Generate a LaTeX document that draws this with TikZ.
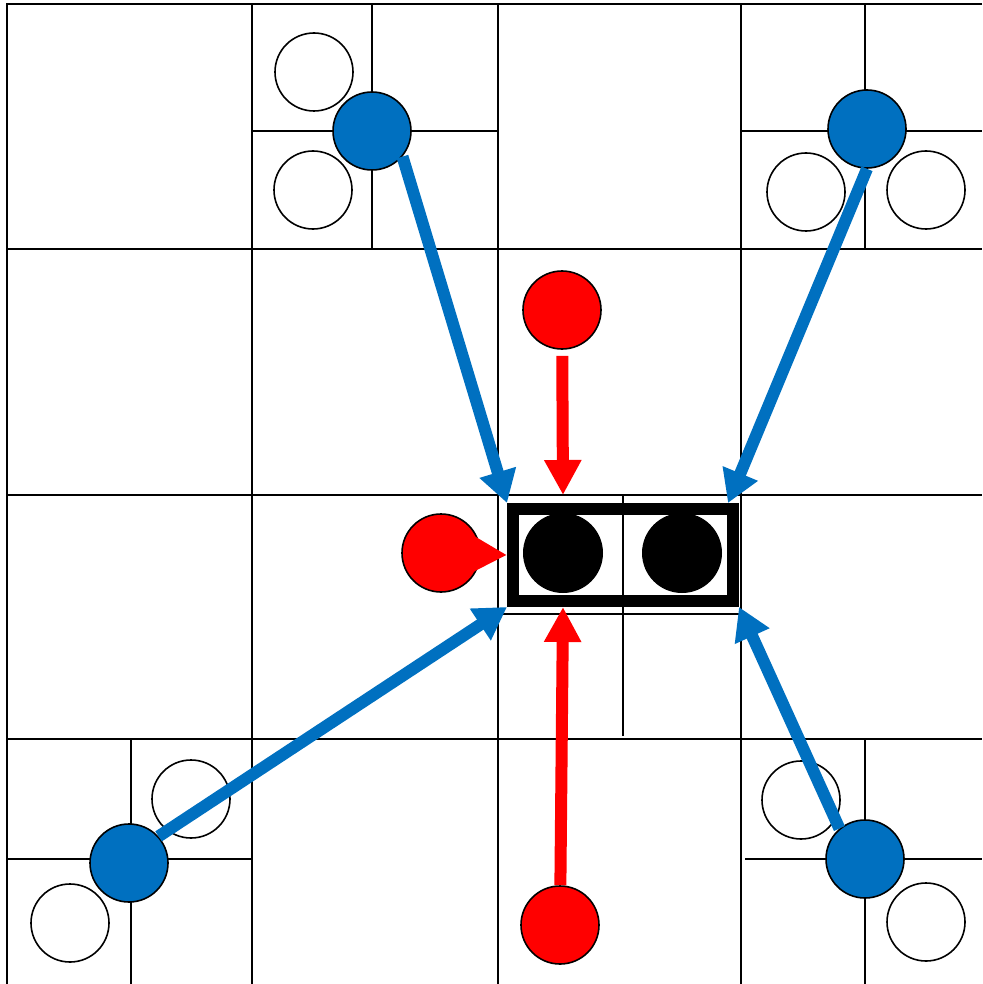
\documentclass[tikz,border=0pt]{standalone}
\usepackage{tikz}
\usetikzlibrary{arrows.meta}
\definecolor{cellblue}{HTML}{0070C0}
\tikzstyle{grid} = [line width=1.3pt, draw=black]
\tikzstyle{frame} = [line width=2.2pt, draw=black]
\tikzstyle{empty} = [circle, minimum size=78pt, inner sep=0pt, draw=black, line width=1.6pt, fill=white]
\tikzstyle{source} = [empty, fill=cellblue]
\tikzstyle{target} = [empty, fill=red]
\tikzstyle{particle} = [circle, minimum size=80pt, inner sep=0pt, fill=black]
\tikzstyle{pair} = [rectangle, minimum width=220pt, minimum height=92pt, inner sep=0pt, draw=black, line width=12pt]
\tikzstyle{bluearrow} = [line width=12pt, draw=cellblue, -{Triangle[length=32pt,width=36pt]}]
\tikzstyle{redarrow} = [line width=12pt, draw=red, -{Triangle[length=35pt,width=35pt]}]
\begin{document}
\begin{tikzpicture}[x=1pt, y=-1pt]
\useasboundingbox (0,0) rectangle (982,984);

% grid
\draw [grid] (252,4) -- (252,984);
\draw [grid] (498,4) -- (498,984);
\draw [grid] (741,4) -- (741,984);
\draw [grid] (7,249) -- (982,249);
\draw [grid] (7,495) -- (982,495);
\draw [grid] (7,739) -- (982,739);
\draw [grid] (372,4) -- (372,249);
\draw [grid] (252,131) -- (498,131);
\draw [grid] (865,4) -- (865,249);
\draw [grid] (741,131) -- (982,131);
\draw [grid] (623,495) -- (623,736);
\draw [grid] (498,614) -- (741,614);
\draw [grid] (131,739) -- (131,984);
\draw [grid] (7,859) -- (252,859);
\draw [grid] (865,739) -- (865,984);
\draw [grid] (745,859) -- (982,859);
\draw [frame] (982,4) -- (7,4) -- (7,984);

% empty neighbours
\node (w1) [empty] at (314,72) {};
\node (w2) [empty] at (313,190) {};
\node (w3) [empty] at (806,192) {};
\node (w4) [empty] at (926,190) {};
\node (w5) [empty] at (191,799) {};
\node (w6) [empty] at (70,923) {};
\node (w7) [empty] at (801,800) {};
\node (w8) [empty] at (926,922) {};

% central pair
\node (box) [pair] at (623,555) {};
\node (k1) [particle] at (563,553) {};
\node (k2) [particle] at (682,553) {};
\coordinate (ktop) at (563,495);
\coordinate (kne) at (728,503);

% sources
\node (b1) [source] at (372,131) {};
\node (b2) [source] at (867,129) {};
\node (b3) [source] at (129,863) {};
\node (b4) [source] at (865,859) {};
\node (r1) [target] at (562,310) {};
\node (r2) [target] at (441,553) {};
\node (r3) [target] at (560,925) {};

\draw [bluearrow] (b1.-40) -- (box.north west);
\draw [bluearrow] (b2.south) -- (kne);
\draw [bluearrow] (b3.42) -- (box.south west);
\draw [bluearrow] (b4.130) -- (box.south east);
\draw [redarrow, shorten <=6pt] (r1) -- (ktop);
\draw [redarrow, shorten <=-8pt] (r2) -- (box.west);
\draw [redarrow] (r3) -- (box.south -| k1);

\end{tikzpicture}
\end{document}
